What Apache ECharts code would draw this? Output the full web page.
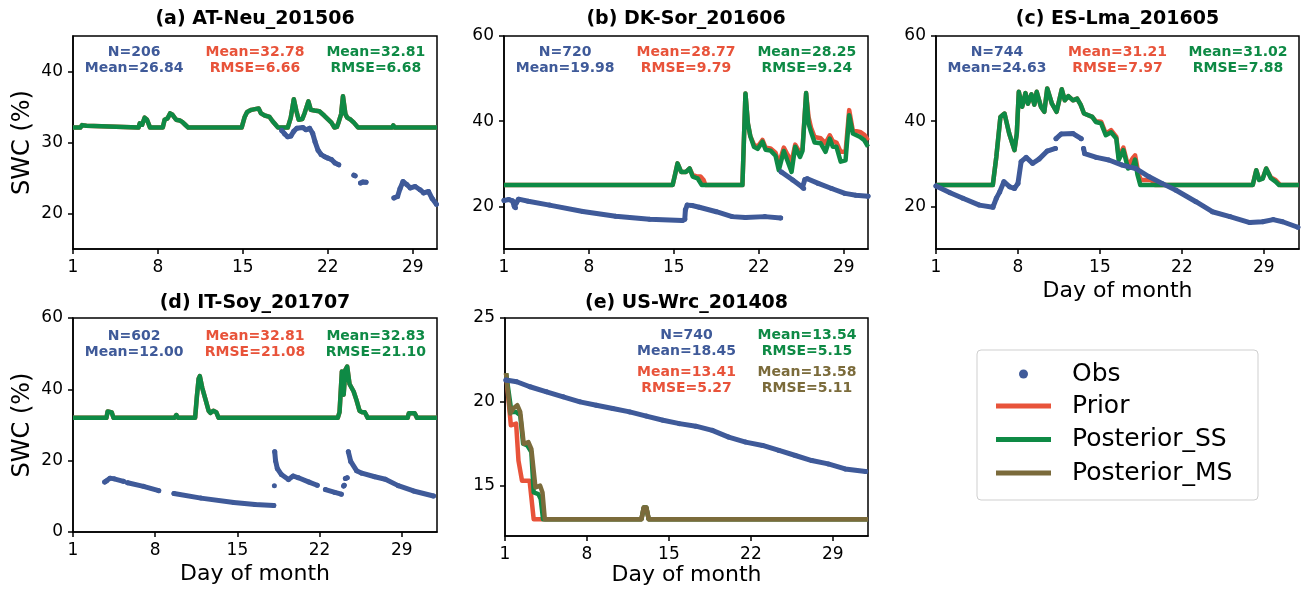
<!DOCTYPE html>
<html>
<head>
<meta charset="utf-8">
<title>SWC assimilation</title>
<style>
  html, body { margin: 0; padding: 0; background: #fff; }
  #chart { width: 1302px; height: 592px; }
</style>
</head>
<body>
<div id="chart"></div>
<script src="https://cdn.jsdelivr.net/npm/echarts@6.0.0/dist/echarts.min.js"></script>
<script>
const GAP = '-'

const titles = ['(a) AT-Neu_201506', '(b) DK-Sor_201606', '(c) ES-Lma_201605', '(d) IT-Soy_201707', '(e) US-Wrc_201408']
const dayTicks = [1, 8, 15, 22, 29]
const yTicks = [[20, 30, 40], [20, 40, 60], [20, 40, 60], [0, 20, 40, 60], [15, 20, 25]]

const obsStats = ['N=206\nMean=26.84', 'N=720\nMean=19.98', 'N=744\nMean=24.63', 'N=602\nMean=12.00', 'N=740\nMean=18.45']
const priorStats = ['Mean=32.78\nRMSE=6.66', 'Mean=28.77\nRMSE=9.79', 'Mean=31.21\nRMSE=7.97', 'Mean=32.81\nRMSE=21.08', 'Mean=13.41\nRMSE=5.27']
const ssStats = ['Mean=32.81\nRMSE=6.68', 'Mean=28.25\nRMSE=9.24', 'Mean=31.02\nRMSE=7.88', 'Mean=32.83\nRMSE=21.10', 'Mean=13.54\nRMSE=5.15']
const msStats = [null, null, null, null, 'Mean=13.58\nRMSE=5.11']

// (a) AT-Neu June 2015
const aObs = [
  [18.2, 31.7], [18.45, 31.2], [18.7, 30.8], [18.95, 30.9], [19.2, 31.6], [19.45, 32.0], [19.95, 32.1], [20.2, 31.8],
  [20.5, 32.0], [20.75, 31.3], [20.95, 30.1], [21.2, 28.9], [21.45, 28.3], [21.75, 28.0], [22.0, 27.8], [22.3, 27.6],
  [22.6, 27.1], [22.9, 26.85], [23.5, GAP], [24.15, 25.4], [24.25, 25.3], [24.5, GAP], [24.7, 24.3], [24.9, 24.45],
  [25.15, 24.4], [26, GAP], [27.45, 22.2], [27.75, 22.4], [27.95, 23.5], [28.2, 24.5], [28.5, 24.1], [28.8, 23.6],
  [29.2, 23.8], [29.6, 23.35], [29.9, 22.9], [30.3, 23.1], [30.6, 22.1], [30.95, 21.3]
]
const aSS = [
  [1, 32.1], [1.6, 32.1], [1.75, 32.45], [2.1, 32.35], [2.25, 32.1], [6.4, 32.1], [6.5, 32.7], [6.7, 32.5], [6.9, 33.5],
  [7.1, 33.2], [7.35, 32.1], [8.4, 32.1], [8.55, 33.2], [8.8, 33.4], [9.0, 34.1], [9.2, 33.9], [9.5, 33.2], [9.8, 33.1],
  [10.0, 32.9], [10.25, 32.5], [10.5, 32.1], [11.7, 32.1], [11.8, 32.3], [11.9, 32.1], [14.9, 32.1], [15.15, 33.6],
  [15.35, 34.3], [15.7, 34.6], [16.0, 34.7], [16.3, 34.8], [16.5, 34.1], [16.8, 33.8], [17.2, 33.6], [17.45, 33.0],
  [17.65, 32.6], [17.9, 32.1], [18.7, 32.1], [18.95, 33.5], [19.2, 36.1], [19.4, 34.5], [19.6, 33.2], [19.9, 33.3],
  [20.1, 34.2], [20.4, 35.8], [20.6, 34.6], [20.9, 34.5], [21.3, 34.4], [21.7, 33.8], [22.0, 33.3], [22.3, 32.8],
  [22.55, 32.1], [22.75, 32.2], [22.9, 32.9], [23.1, 34.0], [23.25, 36.5], [23.45, 34.0], [23.6, 33.5], [23.9, 33.2],
  [24.15, 32.8], [24.5, 32.1], [27.3, 32.1], [27.4, 32.4], [27.5, 32.1], [31, 32.1]
]
const aPrior = aSS

// (b) DK-Sor June 2016
const bObs = [
  [1.0, 21.4], [1.4, 21.6], [1.7, 21.3], [1.85, 20.0], [1.95, 19.7], [2.05, 21.0], [2.2, 21.7], [3.0, 21.2], [4.75, 20.3],
  [7.5, 18.8], [10.2, 17.7], [13.0, 17.0], [15.7, 16.7], [15.9, 17.0], [15.95, 19.2], [16.1, 20.3], [16.5, 20.2],
  [17.1, 19.8], [18.5, 18.75], [19.8, 17.6], [20.9, 17.4], [22.5, 17.6], [23.8, 17.3], [23.82, GAP], [23.85, 28.1],
  [24.8, 26.2], [25.6, 24.5], [25.7, 24.2], [25.8, 26.3], [26.0, 26.5], [26.9, 25.4], [28.0, 24.2], [29.1, 23.05],
  [30.0, 22.6], [31, 22.4]
]
const bSS = [
  [1, 25], [13.6, 25], [13.7, 25.2], [13.8, 25], [14.9, 25], [15.1, 27.5], [15.3, 30.1], [15.6, 28.1], [16.0, 28.1],
  [16.3, 28.9], [16.55, 27.0], [16.95, 26.6], [17.3, 25], [20.65, 25], [20.9, 46.5], [21.1, 39.5], [21.3, 36.5],
  [21.6, 34.0], [21.9, 33.5], [22.3, 35.2], [22.56, 33.3], [22.97, 33.1], [23.38, 31.9], [23.65, 28.5], [24.06, 33.0],
  [24.3, 31.2], [24.7, 28.1], [25.0, 34.0], [25.4, 31.6], [25.6, 33.0], [25.9, 46.6], [26.1, 39.5], [26.3, 37.5],
  [26.6, 35.0], [27.1, 34.8], [27.5, 32.8], [27.85, 35.9], [28.1, 34.0], [28.4, 34.0], [28.75, 30.5], [29.15, 30.8],
  [29.45, 41.4], [29.75, 37.1], [30.35, 36.3], [30.7, 35.5], [31, 34.0]
]
const bPrior = [
  [1, 25], [13.6, 25], [13.7, 25.2], [13.8, 25], [14.9, 25], [15.1, 27.5], [15.3, 30.1], [15.6, 28.1], [16.0, 28.1],
  [16.3, 28.9], [16.55, 27.4], [16.9, 27.0], [17.2, 27.0], [17.45, 26.2], [17.6, 25], [20.65, 25], [20.9, 46.5],
  [21.1, 39.5], [21.3, 36.5], [21.6, 34.5], [21.9, 34.0], [22.3, 35.6], [22.56, 33.8], [22.97, 33.6], [23.38, 32.6],
  [23.65, 30.0], [24.06, 33.8], [24.3, 32.5], [24.7, 30.5], [25.0, 34.5], [25.4, 32.5], [25.6, 33.5], [25.9, 46.6],
  [26.1, 41.0], [26.3, 38.5], [26.6, 36.3], [27.1, 36.0], [27.5, 34.8], [27.85, 36.7], [28.1, 35.3], [28.4, 35.0],
  [28.75, 32.8], [29.15, 32.8], [29.45, 42.6], [29.75, 37.8], [30.35, 37.5], [30.7, 36.8], [31, 35.5]
]

// (c) ES-Lma May 2016
const cObs = [
  [1.0, 24.8], [2.2, 23.2], [3.3, 21.9], [4.7, 20.3], [5.86, 19.8], [6.15, 21.9], [6.44, 23.4], [6.8, 25.8], [7.3, 24.6],
  [7.7, 24.2], [8.0, 25.4], [8.27, 30.5], [8.7, 31.5], [9.25, 30.1], [9.8, 31.1], [10.5, 33.0], [11.2, 33.6], [11.22, GAP],
  [11.25, 35.9], [11.7, 37.0], [12.7, 37.1], [13.4, 35.9], [13.5, GAP], [13.6, 33.6], [13.7, 32.4], [14.7, 31.5],
  [15.76, 30.9], [16.9, 29.7], [18.05, 28.9], [19.2, 26.95], [20.3, 25.4], [21.5, 23.8], [23.2, 21.1], [24.6, 18.75],
  [26.1, 17.6], [27.8, 16.2], [28.9, 16.4], [29.8, 16.9], [30.6, 16.4], [31.9, 15.1]
]
const cSS = [
  [1, 25], [5.85, 25], [6.15, 31.6], [6.5, 41.0], [6.85, 41.8], [7.25, 37.1], [7.7, 33.2], [7.9, 37.1], [8.07, 46.9],
  [8.36, 43.4], [8.64, 46.6], [8.85, 44.1], [9.15, 46.3], [9.4, 43.9], [9.6, 46.9], [9.96, 43.4], [10.25, 42.2],
  [10.5, 47.7], [10.9, 44.1], [11.3, 42.2], [11.74, 47.5], [12.0, 44.9], [12.3, 45.9], [12.7, 44.9], [13.05, 45.3],
  [13.35, 43.9], [13.64, 41.8], [14.35, 41.0], [14.65, 39.8], [15.1, 39.5], [15.5, 36.7], [15.95, 37.4], [16.4, 35.9],
  [16.6, 30.9], [17.0, 33.2], [17.4, 28.9], [17.8, 29.3], [18.0, 31.0], [18.2, 27.5], [18.45, 25.0], [28.05, 25],
  [28.35, 28.5], [28.6, 26.2], [28.9, 26.5], [29.2, 28.9], [29.6, 26.6], [30.0, 25.8], [30.3, 25.0], [32, 25]
]
const cPrior = [
  [1, 25], [5.85, 25], [6.15, 31.6], [6.5, 41.0], [6.85, 41.8], [7.25, 37.1], [7.7, 33.2], [7.9, 37.1], [8.07, 46.9],
  [8.36, 43.4], [8.64, 46.6], [8.85, 44.1], [9.15, 46.3], [9.4, 43.9], [9.6, 46.9], [9.96, 43.4], [10.25, 42.2],
  [10.5, 47.7], [10.9, 44.1], [11.3, 42.2], [11.74, 47.5], [12.0, 44.9], [12.3, 45.9], [12.7, 44.9], [13.05, 45.3],
  [13.35, 43.9], [13.64, 41.8], [14.35, 41.0], [14.65, 40.0], [15.1, 39.9], [15.5, 37.1], [15.95, 37.9], [16.4, 36.3],
  [16.6, 31.5], [17.0, 33.8], [17.4, 29.5], [17.8, 31.3], [18.0, 32.0], [18.3, 27.5], [18.5, 26.2], [19.4, 26.2],
  [19.7, 25], [28.05, 25], [28.35, 28.5], [28.6, 26.3], [28.9, 26.6], [29.2, 28.9], [29.6, 26.8], [30.0, 26.2],
  [30.4, 25.0], [32, 25]
]

// (d) IT-Soy July 2017
const dObs = [
  [3.7, 14.0], [3.85, 14.3], [4.15, 15.1], [4.5, 14.9], [5.3, 14.2], [5.45, GAP], [5.65, 13.8], [7.0, 12.8], [8.3, 11.6],
  [8.6, GAP], [9.6, 10.8], [11.9, 9.5], [14.7, 8.3], [16.5, 7.7], [18.1, 7.4], [18.12, GAP], [18.15, 13.0], [18.17, GAP],
  [18.18, 22.5], [18.25, 20.0], [18.4, 17.8], [18.75, 16.1], [19.35, 14.7], [19.75, 15.7], [20.2, 15.2], [21.1, 14.0],
  [21.8, 13.1], [22.1, GAP], [22.5, 11.9], [23.3, 11.1], [23.85, 10.6], [23.95, GAP], [24.05, 12.9], [24.1, 13.1],
  [24.15, GAP], [24.2, 15.0], [24.35, 15.2], [24.4, GAP], [24.45, 22.5], [24.65, 19.8], [25.15, 17.2], [25.6, 16.5],
  [26.7, 15.5], [27.6, 14.8], [28.7, 13.0], [30.0, 11.5], [31.7, 10.1]
]
const dSS = [
  [1, 32], [3.85, 32], [3.95, 33.8], [4.1, 34.3], [4.3, 33.5], [4.45, 32], [9.65, 32], [9.8, 32.8], [9.95, 32],
  [11.4, 32], [11.55, 38.0], [11.7, 43.0], [11.8, 43.7], [12.0, 40.5], [12.3, 37.0], [12.55, 34.0], [12.7, 33.4],
  [12.95, 34.0], [13.2, 33.6], [13.4, 32], [23.55, 32], [23.7, 33.6], [23.85, 34.0], [23.9, 45.0], [24.05, 38.5],
  [24.2, 45.5], [24.35, 46.4], [24.55, 41.5], [24.9, 39.4], [25.15, 36.9], [25.4, 34.0], [25.6, 33.6], [25.85, 33.6],
  [26.1, 32], [29.5, 32], [29.6, 33.3], [30.1, 33.3], [30.3, 32], [32, 32]
]
const dPrior = dSS

// (e) US-Wrc August 2014
const eObs = [
  [1.08, 21.3], [2.0, 21.2], [3.13, 20.9], [4.55, 20.6], [5.97, 20.3], [7.4, 20.0], [8.8, 19.8], [10.2, 19.6],
  [11.65, 19.4], [13.07, 19.15], [14.5, 18.9], [15.9, 18.7], [17.3, 18.55], [18.7, 18.3], [20.1, 17.9], [21.55, 17.6],
  [23.0, 17.4], [24.4, 17.1], [25.8, 16.8], [27.2, 16.5], [28.6, 16.3], [30.05, 16.0], [31.8, 15.85]
]
const ePrior = [
  [1.09, 21.7], [1.5, 18.6], [1.95, 18.7], [2.15, 16.5], [2.45, 15.3], [3.1, 15.3], [3.45, 13.0], [12.65, 13.0],
  [12.85, 13.7], [13.07, 13.7], [13.27, 13.0], [32, 13.0]
]
const eSS = [
  [1.09, 21.7], [1.55, 19.4], [1.95, 19.4], [2.3, 19.2], [2.55, 17.5], [2.9, 17.4], [3.25, 17.0], [3.45, 14.6],
  [3.85, 14.5], [4.05, 14.2], [4.25, 13.0], [12.65, 13.0], [12.85, 13.7], [13.07, 13.7], [13.27, 13.0], [32, 13.0]
]
const eMS = [
  [1.09, 21.7], [1.45, 19.3], [1.7, 19.6], [2.05, 19.8], [2.3, 19.4], [2.6, 17.5], [3.0, 17.6], [3.25, 17.2],
  [3.6, 14.9], [4.0, 15.0], [4.2, 14.6], [4.4, 13.0], [12.65, 13.0], [12.85, 13.7], [13.07, 13.7], [13.27, 13.0], [32, 13.0]
]

const panels = [
  { obs: aObs, prior: aPrior, ss: aSS, ms: null },
  { obs: bObs, prior: bPrior, ss: bSS, ms: null },
  { obs: cObs, prior: cPrior, ss: cSS, ms: null },
  { obs: dObs, prior: dPrior, ss: dSS, ms: null },
  { obs: eObs, prior: ePrior, ss: eSS, ms: eMS }
]

const FONT = 'DejaVu Sans'
const colors = { obs: '#3f5a99', prior: '#e8533a', ss: '#0e8a45', ms: '#7b6b3b' }

const grids = [
  { left: 73, top: 36, width: 364, height: 213 },
  { left: 504, top: 36, width: 364, height: 213 },
  { left: 936, top: 36, width: 363, height: 213 },
  { left: 73, top: 318, width: 364, height: 214 },
  { left: 505, top: 318, width: 363, height: 218 }
]
const xMax = [31, 31, 32, 32, 32]
const yMin = [15, 10, 10, 0, 12]
const yMax = [45, 60, 60, 60, 25]
const xNameGap = [0, 0, 31, 31, 27]

const chart = echarts.init(document.querySelector('#chart'))

const xAxis = grids.map((g, i) => ({
  gridIndex: i,
  type: 'value',
  min: 1,
  max: xMax[i],
  name: i >= 2 ? 'Day of month' : '',
  nameLocation: 'middle',
  nameGap: xNameGap[i],
  nameTextStyle: { fontSize: 22, fontFamily: FONT, color: '#000' },
  axisLine: { show: true, onZero: false, lineStyle: { color: '#000', width: 1.5 } },
  axisTick: { show: true, length: 5, lineStyle: { color: '#000', width: 1.5 }, customValues: dayTicks },
  axisLabel: { customValues: dayTicks, fontSize: 17, fontFamily: FONT, color: '#000', margin: 10 },
  splitLine: { show: false }
}))

const yAxis = grids.map((g, i) => ({
  gridIndex: i,
  type: 'value',
  min: yMin[i],
  max: yMax[i],
  name: i === 0 || i === 3 ? 'SWC (%)' : '',
  nameLocation: 'middle',
  nameGap: 38,
  nameTextStyle: { fontSize: 24, fontFamily: FONT, color: '#000' },
  axisLine: { show: true, onZero: false, lineStyle: { color: '#000', width: 1.5 } },
  axisTick: { show: true, length: 5, lineStyle: { color: '#000', width: 1.5 }, customValues: yTicks[i] },
  axisLabel: { customValues: yTicks[i], fontSize: 17, fontFamily: FONT, color: '#000', margin: 10 },
  splitLine: { show: false }
}))

const series = []
panels.forEach((p, i) => {
  const model = (name, data, color, z) => ({
    name, type: 'line', data, z,
    xAxisIndex: i, yAxisIndex: i,
    color,
    showSymbol: false,
    lineStyle: { width: 4.5, color, join: 'round' }
  })
  series.push(model('Prior', p.prior, colors.prior, 2))
  series.push(model('Posterior_SS', p.ss, colors.ss, 3))
  if (p.ms) series.push(model('Posterior_MS', p.ms, colors.ms, 4))
  series.push({
    name: 'Obs', type: 'line', data: p.obs, z: 5,
    xAxisIndex: i, yAxisIndex: i,
    color: colors.obs,
    showSymbol: true, showAllSymbol: true,
    symbol: 'circle', symbolSize: 5,
    itemStyle: { color: colors.obs },
    lineStyle: { width: 5, color: colors.obs, cap: 'round', join: 'round' }
  })
})

// stat labels: obs / prior / SS (and MS in e)
const statText = (text, x, y, color) => ({
  type: 'text', x, y, z: 10,
  style: { text, fill: color, fontSize: 14, fontWeight: 'bold', fontFamily: FONT, align: 'center', verticalAlign: 'middle', lineHeight: 16 }
})
const graphic = []
grids.forEach((g, i) => {
  graphic.push({
    type: 'text', x: g.left + g.width / 2, y: i < 3 ? 19 : 303, z: 10,
    style: { text: titles[i], fill: '#000', fontSize: 19, fontWeight: 'bold', fontFamily: FONT, align: 'center', verticalAlign: 'middle' }
  })
  const fx = f => g.left + g.width * f
  if (i < 4) {
    const y = g.top + (i < 3 ? 24 : 26)
    graphic.push(statText(obsStats[i], fx(0.168), y, colors.obs))
    graphic.push(statText(priorStats[i], fx(0.5), y, colors.prior))
    graphic.push(statText(ssStats[i], fx(0.832), y, colors.ss))
  } else {
    graphic.push(statText(obsStats[i], fx(0.5), g.top + 25, colors.obs))
    graphic.push(statText(ssStats[i], fx(0.832), g.top + 25, colors.ss))
    graphic.push(statText(priorStats[i], fx(0.5), g.top + 62, colors.prior))
    graphic.push(statText(msStats[i], fx(0.832), g.top + 62, colors.ms))
  }
})
graphic.push({
  type: 'rect', z: 1,
  shape: { x: 977, y: 350, width: 281, height: 150, r: 4 },
  style: { fill: '#fff', stroke: '#cfcfcf', lineWidth: 1 }
})

const legendText = { fontSize: 25, fontFamily: FONT, color: '#000', lineHeight: 28, padding: [0, 0, 0, 16] }

const option = {
  animation: false,
  backgroundColor: '#fff',
  grid: grids.map(g => ({ ...g, show: true, borderColor: '#000', borderWidth: 1.5, backgroundColor: 'transparent' })),
  xAxis,
  yAxis,
  legend: [
    {
      data: [{ name: 'Obs', icon: 'circle' }],
      orient: 'vertical', left: 1019, top: 360, padding: 0, z: 20,
      itemWidth: 55, itemHeight: 9, selectedMode: false,
      textStyle: legendText
    },
    {
      data: ['Prior', 'Posterior_SS', 'Posterior_MS'],
      icon: 'rect',
      orient: 'vertical', left: 996, top: 392, padding: 0, z: 20,
      itemWidth: 55, itemHeight: 5, itemGap: 5.5, selectedMode: false,
      textStyle: legendText
    }
  ],
  graphic,
  series
}

chart.setOption(option)
</script>
</body>
</html>
